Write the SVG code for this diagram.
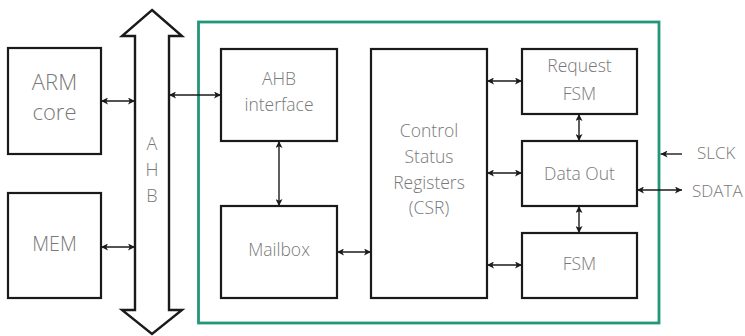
<svg xmlns="http://www.w3.org/2000/svg" width="745" height="336" viewBox="0 0 745 336">
  <style>
    .box { fill: #ffffff; stroke: #1a1a1a; stroke-width: 2.2; }
    .lbl { font-family: "Open Sans", "Liberation Sans", sans-serif; font-weight: 300; fill: #787878; text-anchor: middle; }
    .t18 { font-size: 17.5px; }
    .pin { font-family: "Open Sans", "Liberation Sans", sans-serif; font-weight: 300; fill: #787878; font-size: 17px; }
    .conn { stroke: #1a1a1a; stroke-width: 1.4; fill: none; }
  </style>
  <defs>
    <marker id="arrowEnd" viewBox="0 0 10 10" refX="10" refY="5" markerWidth="7" markerHeight="7" markerUnits="userSpaceOnUse" orient="auto">
      <path d="M0,0 L10,5 L0,10 L2.5,5 z" fill="#1a1a1a"/>
    </marker>
    <marker id="arrowStart" viewBox="0 0 10 10" refX="0" refY="5" markerWidth="7" markerHeight="7" markerUnits="userSpaceOnUse" orient="auto">
      <path d="M10,0 L0,5 L10,10 L7.5,5 z" fill="#1a1a1a"/>
    </marker>
  </defs>

  <!-- peripheral block boundary -->
  <rect id="peripheral" x="198.5" y="22" width="460.5" height="301" fill="none" stroke="#23967a" stroke-width="2.8"/>

  <!-- AHB bus -->
  <g id="ahb-bus">
    <polygon points="152,10 182,36 169,36 169,310 182,310 152,334 122,310 135,310 135,36 122,36" fill="#ffffff" stroke="#1a1a1a" stroke-width="2.4" stroke-linejoin="miter"/>
    <text class="lbl" font-size="18" x="152" y="150">A</text>
    <text class="lbl" font-size="18" x="152" y="176">H</text>
    <text class="lbl" font-size="18" x="152" y="201.5">B</text>
  </g>

  <g id="arm-core">
    <rect class="box" x="8" y="48" width="93" height="106"/>
    <text class="lbl" font-size="22" x="54.5" y="89.5">ARM</text>
    <text class="lbl" font-size="22" x="54.5" y="119.5">core</text>
  </g>

  <g id="mem">
    <rect class="box" x="8" y="193" width="93" height="105"/>
    <text class="lbl" font-size="19.5" x="54.5" y="251">MEM</text>
  </g>

  <g id="ahb-interface">
    <rect class="box" x="221" y="49" width="116" height="92"/>
    <text class="lbl t18" x="279" y="85">AHB</text>
    <text class="lbl t18" x="279" y="111">interface</text>
  </g>

  <g id="mailbox">
    <rect class="box" x="221" y="206" width="116" height="92"/>
    <text class="lbl t18" x="279" y="256">Mailbox</text>
  </g>

  <g id="csr">
    <rect class="box" x="371" y="49" width="116" height="249"/>
    <text class="lbl t18" x="429" y="137">Control</text>
    <text class="lbl t18" x="429" y="163">Status</text>
    <text class="lbl t18" x="429" y="189">Registers</text>
    <text class="lbl t18" x="429" y="214">(CSR)</text>
  </g>

  <g id="request-fsm">
    <rect class="box" x="522" y="49" width="115" height="65"/>
    <text class="lbl t18" x="579.5" y="72">Request</text>
    <text class="lbl t18" x="579.5" y="99.5">FSM</text>
  </g>

  <g id="data-out">
    <rect class="box" x="522" y="141" width="115" height="65"/>
    <text class="lbl t18" x="579.5" y="179.5">Data Out</text>
  </g>

  <g id="fsm">
    <rect class="box" x="522" y="233" width="115" height="65"/>
    <text class="lbl t18" x="579.5" y="269.5">FSM</text>
  </g>

  <!-- external pin labels -->
  <g id="pins">
    <text class="pin" x="697" y="159">SLCK</text>
    <text class="pin" x="692" y="196.5">SDATA</text>
  </g>

  <!-- connectors -->
  <g id="connectors" class="conn">
    <line x1="101" y1="101" x2="135" y2="101" marker-start="url(#arrowStart)" marker-end="url(#arrowEnd)"/>
    <line x1="101" y1="247" x2="135" y2="247" marker-start="url(#arrowStart)" marker-end="url(#arrowEnd)"/>
    <line x1="169" y1="95" x2="221" y2="95" marker-start="url(#arrowStart)" marker-end="url(#arrowEnd)"/>
    <line x1="279" y1="141" x2="279" y2="206" marker-start="url(#arrowStart)" marker-end="url(#arrowEnd)"/>
    <line x1="337" y1="252" x2="371" y2="252" marker-start="url(#arrowStart)" marker-end="url(#arrowEnd)"/>
    <line x1="487" y1="81" x2="522" y2="81" marker-start="url(#arrowStart)" marker-end="url(#arrowEnd)"/>
    <line x1="487" y1="173" x2="522" y2="173" marker-start="url(#arrowStart)" marker-end="url(#arrowEnd)"/>
    <line x1="487" y1="265" x2="522" y2="265" marker-start="url(#arrowStart)" marker-end="url(#arrowEnd)"/>
    <line x1="579" y1="114" x2="579" y2="141" marker-start="url(#arrowStart)" marker-end="url(#arrowEnd)"/>
    <line x1="579" y1="206" x2="579" y2="233" marker-start="url(#arrowStart)" marker-end="url(#arrowEnd)"/>
    <line x1="682" y1="154" x2="660.5" y2="154" marker-end="url(#arrowEnd)"/>
    <line x1="637" y1="190" x2="682" y2="190" marker-start="url(#arrowStart)" marker-end="url(#arrowEnd)"/>
  </g>
</svg>
